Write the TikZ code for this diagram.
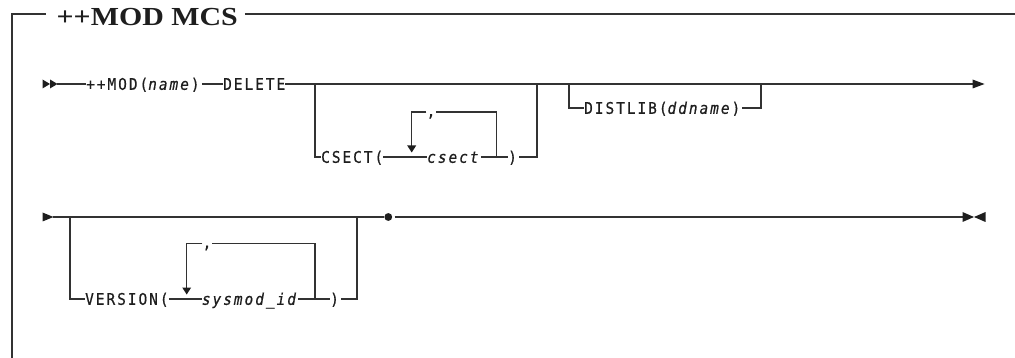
\documentclass[tikz,border=0pt]{standalone}
\usepackage{fontspec}
\newfontfamily\rrfont[LetterSpace=12.5,FakeStretch=0.9,FakeBold=0.6]{DejaVu Sans Mono}
\newfontfamily\titlefont[UprightFont={* Bold},FakeStretch=1.15]{Liberation Serif}
\definecolor{ink}{RGB}{30,30,30}
\definecolor{railc}{RGB}{50,50,50}
\begin{document}
\begin{tikzpicture}[x=1pt,y=-1pt,
  rr/.style={font=\rrfont\fontsize{16}{18}\selectfont, inner sep=0pt, anchor=base west, text=ink},
  rail/.style={draw=railc, line width=1.25pt},
  tip/.style={fill=ink, draw=none},
  title/.style={font=\titlefont\fontsize{26}{30}\selectfont, inner sep=0pt, anchor=base west, text=ink}]
\useasboundingbox (0,0) rectangle (1015,358);

% frame
\node[title] (ttl) at (56.5,26) {++MOD MCS};
\coordinate (fbl) at (12,358);
\coordinate (ftl) at (12,14);
\coordinate (ftr) at (1015,14);
\draw[rail] (fbl) -- (ftl) -- ([xshift=-11pt]ttl.west |- ftl);
\draw[rail] ([xshift=7pt]ttl.east |- ftl) -- (ftr);

% ---------------- row 1 ----------------
\coordinate (r1) at (0,84);
\fill[tip] (42.5,79.5) -- (50,84) -- (42.5,88.5) -- cycle;
\fill[tip] (50,79.5) -- (57.5,84) -- (50,88.5) -- cycle;
\coordinate (s1) at (57,84);
\node[rr] (mod) at (86,89.8) {++MOD(\textit{name})};
\node[rr] (del) at (223,89.8) {DELETE};
\coordinate (e1) at (974,84);
\draw[rail] (s1) -- (mod.west |- r1);
\draw[rail] ([xshift=2pt]mod.east |- r1) -- (del.west |- r1);
\draw[rail] (del.east |- r1) -- (e1);
\fill[tip] (972.5,79.5) -- (984.5,84) -- (972.5,88.5) -- cycle;

% CSECT branch
\coordinate (crow) at (0,157);
\coordinate (cbl) at (315,84);
\coordinate (cbr) at (537,84);
\node[rr] (csect) at (321,162.8) {CSECT(};
\node[rr] (csv) at (427,162.8) {\textit{csect}};
\node[rr] (cpar) at (508,162.8) {)};
\node[rr, anchor=base] (ccom) at (431,116.5) {,};
\coordinate (cll) at (411.7,112);
\coordinate (clr) at (496.7,112);
\draw[rail] (cbl) |- (csect.west |- crow);
\draw[rail] (csect.east |- crow) -- (csv.west |- crow);
\draw[rail] (csv.east |- crow) -- (cpar.west |- crow);
\draw[rail] ([xshift=2pt]cpar.east |- crow) -| (cbr);
\draw[rail] (clr |- crow) -- (clr) -- (ccom.east |- clr);
\draw[rail] (ccom.west |- cll) -- (cll) -- (411.7,146);
\fill[tip] (407.2,145.5) -- (416.2,145.5) -- (411.7,152.5) -- cycle;

% DISTLIB branch
\coordinate (drow) at (0,108);
\coordinate (dbl) at (569,84);
\coordinate (dbr) at (761,84);
\node[rr] (dist) at (584,113.8) {DISTLIB(\textit{ddname})};
\draw[rail] (dbl) |- (dist.west |- drow);
\draw[rail] ([xshift=2pt]dist.east |- drow) -| (dbr);

% ---------------- row 2 ----------------
\coordinate (r2) at (0,217);
\fill[tip] (42.5,212.5) -- (53.5,217) -- (42.5,221.5) -- cycle;
\coordinate (s2) at (53,217);
\node[circle, fill=ink, inner sep=0pt, minimum size=7.8pt] (dot) at (388.3,217) {};
\coordinate (tk1) at (394.5,217);
\coordinate (tk2) at (415,217);
\coordinate (e2) at (963,217);
\draw[rail] (s2) -- (dot.west);
\draw[rail, line width=2.2pt] (tk1) -- (tk2);
\draw[rail] (tk2) -- (e2);
\fill[tip] (962.5,212) -- (974,217) -- (962.5,222) -- cycle;
\fill[tip] (985.5,212) -- (974,217) -- (985.5,222) -- cycle;

% VERSION branch
\coordinate (vrow) at (0,299);
\coordinate (vbl) at (70,217);
\coordinate (vbr) at (357,217);
\node[rr] (ver) at (85,304.8) {VERSION(};
\node[rr] (sys) at (201.7,304.8) {\textit{sysmod\_id}};
\node[rr] (vpar) at (330,304.8) {)};
\node[rr, anchor=base] (vcom) at (207,248) {,};
\coordinate (vll) at (186.7,243.5);
\coordinate (vlr) at (315,243.5);
\draw[rail] (vbl) |- (ver.west |- vrow);
\draw[rail] (ver.east |- vrow) -- (sys.west |- vrow);
\draw[rail] (sys.east |- vrow) -- (vpar.west |- vrow);
\draw[rail] ([xshift=2pt]vpar.east |- vrow) -| (vbr);
\draw[rail] (vlr |- vrow) -- (vlr) -- (vcom.east |- vlr);
\draw[rail] (vcom.west |- vll) -- (vll) -- (186.7,288);
\fill[tip] (182.2,287.5) -- (191.2,287.5) -- (186.7,294.5) -- cycle;
\end{tikzpicture}
\end{document}
